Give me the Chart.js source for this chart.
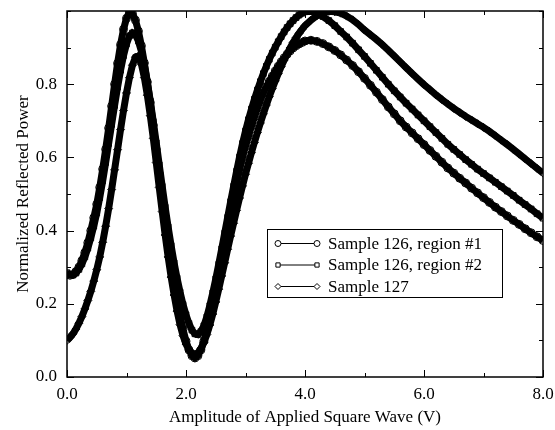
<!DOCTYPE html>
<html><head><meta charset="utf-8">
<script src="https://cdn.jsdelivr.net/npm/chart.js@4/dist/chart.umd.min.js"></script>
<style>html,body{margin:0;padding:0;background:#fff;}canvas{display:block}</style>
</head><body>
<canvas id="c" width="555" height="430"></canvas>
<script>
// Applied square-wave amplitude (V)
const voltage = [0.00,0.05,0.10,0.15,0.20,0.25,0.30,0.35,0.40,0.45,
0.50,0.55,0.60,0.65,0.70,0.75,0.80,0.85,0.90,0.95,
1.00,1.05,1.10,1.15,1.20,1.25,1.30,1.35,1.40,1.45,
1.50,1.55,1.60,1.65,1.70,1.75,1.80,1.85,1.90,1.95,
2.00,2.05,2.10,2.15,2.20,2.25,2.30,2.35,2.40,2.45,
2.50,2.55,2.60,2.65,2.70,2.75,2.80,2.85,2.90,2.95,
3.00,3.05,3.10,3.15,3.20,3.25,3.30,3.35,3.40,3.45,
3.50,3.55,3.60,3.65,3.70,3.75,3.80,3.85,3.90,3.95,
4.00,
4.1,4.2,4.3,4.4,4.5,4.6,4.7,4.8,4.9,5.0,
5.1,5.2,5.3,5.4,5.5,5.6,5.7,5.8,5.9,6.0,
6.1,6.2,6.3,6.4,6.5,6.6,6.7,6.8,6.9,7.0,
7.1,7.2,7.3,7.4,7.5,7.6,7.7,7.8,7.9,8.0];

// Sample 126, region #1 (circles)
const sample126r1 = [0.280,0.278,0.280,0.288,0.300,0.318,0.340,0.367,0.400,0.435,
0.472,0.518,0.568,0.622,0.680,0.740,0.800,0.857,0.908,0.950,
0.980,0.997,0.993,0.975,0.945,0.905,0.858,0.806,0.750,0.688,
0.622,0.556,0.490,0.428,0.368,0.312,0.260,0.212,0.168,0.130,
0.098,0.074,0.058,0.052,0.058,0.074,0.098,0.128,0.162,0.200,
0.240,0.280,0.320,0.362,0.405,0.446,0.488,0.528,0.566,0.600,
0.630,0.658,0.685,0.710,0.734,0.756,0.776,0.793,0.808,0.822,
0.836,0.849,0.861,0.872,0.882,0.891,0.899,0.905,0.910,0.914,
0.918,
0.920,0.917,0.911,0.902,0.892,0.880,0.866,0.851,0.834,0.816,
0.797,0.778,0.758,0.738,0.719,0.700,0.683,0.667,0.651,0.635,
0.619,0.603,0.587,0.571,0.557,0.543,0.530,0.516,0.503,0.490,
0.477,0.464,0.452,0.440,0.428,0.417,0.405,0.394,0.383,0.373];

// Sample 126, region #2 (squares)
const sample126r2 = [0.285,0.280,0.279,0.284,0.294,0.309,0.328,0.352,0.380,0.412,
0.448,0.490,0.536,0.586,0.638,0.690,0.742,0.792,0.838,0.878,
0.910,0.932,0.940,0.935,0.918,0.890,0.852,0.806,0.754,0.698,
0.640,0.580,0.521,0.464,0.410,0.359,0.312,0.270,0.232,0.198,
0.170,0.146,0.128,0.118,0.116,0.124,0.140,0.164,0.195,0.230,
0.268,0.308,0.350,0.393,0.436,0.479,0.521,0.562,0.601,0.638,
0.672,0.703,0.732,0.759,0.784,0.807,0.829,0.849,0.868,0.885,
0.901,0.916,0.930,0.943,0.955,0.965,0.974,0.982,0.989,0.994,
0.998,
0.999,0.994,0.985,0.974,0.960,0.944,0.929,0.912,0.894,0.876,
0.857,0.838,0.819,0.800,0.782,0.765,0.748,0.732,0.716,0.700,
0.684,0.668,0.652,0.636,0.622,0.608,0.594,0.581,0.568,0.556,
0.544,0.532,0.520,0.508,0.496,0.483,0.471,0.459,0.446,0.434];

// Sample 127 (diamonds)
const sample127 = [0.100,0.108,0.118,0.131,0.147,0.165,0.186,0.209,0.234,0.262,
0.293,0.328,0.368,0.412,0.460,0.512,0.566,0.621,0.676,0.728,
0.776,0.818,0.852,0.874,0.877,0.855,0.818,0.770,0.714,0.652,
0.586,0.518,0.452,0.388,0.328,0.273,0.224,0.180,0.143,0.113,
0.090,0.074,0.065,0.062,0.066,0.077,0.094,0.116,0.142,0.172,
0.205,0.240,0.276,0.312,0.349,0.385,0.420,0.455,0.489,0.522,
0.554,0.584,0.613,0.641,0.668,0.694,0.719,0.743,0.766,0.788,
0.809,0.829,0.848,0.866,0.883,0.899,0.914,0.927,0.939,0.950,
0.960,
0.975,0.987,0.995,0.999,0.998,0.994,0.986,0.976,0.963,0.948,
0.935,0.922,0.908,0.893,0.877,0.861,0.845,0.829,0.814,0.799,
0.785,0.771,0.758,0.746,0.734,0.723,0.712,0.702,0.692,0.682,
0.671,0.659,0.647,0.635,0.622,0.609,0.596,0.583,0.570,0.557];

const seriesNames = ['Sample 126, region #1', 'Sample 126, region #2', 'Sample 127'];
const seriesValues = [sample126r1, sample126r2, sample127];
const pointStyles = ['circle', 'rect', 'rectRot'];

const xTickLabels = ['0.0', '2.0', '4.0', '6.0', '8.0'];
const yTickLabels = ['0.0', '0.2', '0.4', '0.6', '0.8'];
const xTitle = 'Amplitude of Applied Square Wave (V)';
const yTitle = 'Normalized Reflected Power';

const FONT = "'Liberation Serif','Times New Roman',serif";

function drawMarker(ctx, style, x, y, r) {
  ctx.beginPath();
  if (style === 'circle') {
    ctx.arc(x, y, r, 0, Math.PI * 2);
  } else if (style === 'rect') {
    const s = r * Math.SQRT1_2;
    ctx.rect(x - s, y - s, 2 * s, 2 * s);
  } else {
    ctx.moveTo(x - r, y); ctx.lineTo(x, y - r); ctx.lineTo(x + r, y); ctx.lineTo(x, y + r); ctx.closePath();
  }
  ctx.fillStyle = '#fff';
  ctx.fill();
  ctx.stroke();
}

const frame = {
  id: 'frame',
  afterDraw(chart) {
    const { ctx, chartArea: a, scales: { x, y } } = chart;
    ctx.save();
    ctx.strokeStyle = '#000';
    ctx.lineWidth = 1;
    const seg = (x1, y1, x2, y2) => { ctx.beginPath(); ctx.moveTo(x1, y1); ctx.lineTo(x2, y2); ctx.stroke(); };
    x.ticks.forEach(t => {
      const px = Math.round(x.getPixelForValue(t.value)) + 0.5;
      const L = xTickLabels.includes(t.value.toFixed(1)) ? 7 : 4;
      seg(px, a.bottom, px, a.bottom - L);
      seg(px, a.top, px, a.top + L);
    });
    y.ticks.forEach(t => {
      const py = Math.round(y.getPixelForValue(t.value)) + 0.5;
      const L = yTickLabels.includes(t.value.toFixed(1)) ? 7 : 4;
      seg(a.left, py, a.left + L, py);
      seg(a.right, py, a.right - L, py);
    });
    ctx.lineWidth = 1.5;
    ctx.strokeRect(a.left, a.top, a.right - a.left, a.bottom - a.top);

    // legend box inside plot
    const bx = a.left + 200, by = a.top + 218, bw = 235, bh = 68;
    ctx.fillStyle = '#fff';
    ctx.fillRect(bx, by, bw, bh);
    ctx.lineWidth = 1;
    ctx.strokeRect(bx + 0.5, by + 0.5, bw, bh);
    ctx.font = '17px ' + FONT;
    ctx.textBaseline = 'middle';
    ctx.textAlign = 'left';
    seriesNames.forEach((name, i) => {
      const ry = by + 14.5 + i * 21.5;
      ctx.strokeStyle = '#000';
      ctx.lineWidth = 1;
      seg(bx + 11, ry, bx + 50, ry);
      drawMarker(ctx, pointStyles[i], bx + 11, ry, 3);
      drawMarker(ctx, pointStyles[i], bx + 50, ry, 3);
      ctx.fillStyle = '#000';
      ctx.fillText(name, bx + 61, ry + 1);
    });
    ctx.restore();
  }
};

const datasets = seriesNames.map((name, i) => ({
  label: name,
  data: voltage.map((v, k) => ({ x: v, y: seriesValues[i][k] })),
  borderColor: '#000',
  borderWidth: 7,
  pointStyle: pointStyles[i],
  pointRadius: 4,
  pointBorderWidth: 1,
  pointBorderColor: '#000',
  pointBackgroundColor: 'rgba(0,0,0,0)',
  tension: 0,
  fill: false
}));

new Chart(document.getElementById('c'), {
  type: 'line',
  data: { datasets },
  options: {
    responsive: false,
    animation: false,
    devicePixelRatio: 1,
    layout: { padding: { top: 11, right: 12, left: 0, bottom: 0 } },
    plugins: { legend: { display: false }, tooltip: { enabled: false } },
    scales: {
      x: {
        type: 'linear', min: 0, max: 8,
        grid: { display: false, drawTicks: false },
        border: { display: false },
        ticks: {
          stepSize: 1, padding: 7, color: '#000', maxRotation: 0, autoSkip: false,
          font: { family: FONT, size: 17 },
          callback: v => { const s = Number(v).toFixed(1); return xTickLabels.includes(s) ? s : ''; }
        },
        title: { display: true, text: xTitle, color: '#000', font: { family: FONT, size: 17 }, padding: { top: 0, bottom: 2 } },
        afterFit: s => { s.height = 53; s.paddingLeft = 0; s.paddingRight = 0; }
      },
      y: {
        type: 'linear', min: 0, max: 1,
        grid: { display: false, drawTicks: false },
        border: { display: false },
        ticks: {
          stepSize: 0.1, padding: 10, color: '#000', autoSkip: false,
          font: { family: FONT, size: 17 },
          callback: v => { const s = Number(v).toFixed(1); return yTickLabels.includes(s) ? s : ''; }
        },
        title: { display: true, text: yTitle, color: '#000', font: { family: FONT, size: 17 }, padding: { top: 13, bottom: 0 } },
        afterFit: s => { s.width = 67; s.paddingTop = 0; s.paddingBottom = 0; }
      }
    }
  },
  plugins: [frame]
});
</script>
</body></html>
